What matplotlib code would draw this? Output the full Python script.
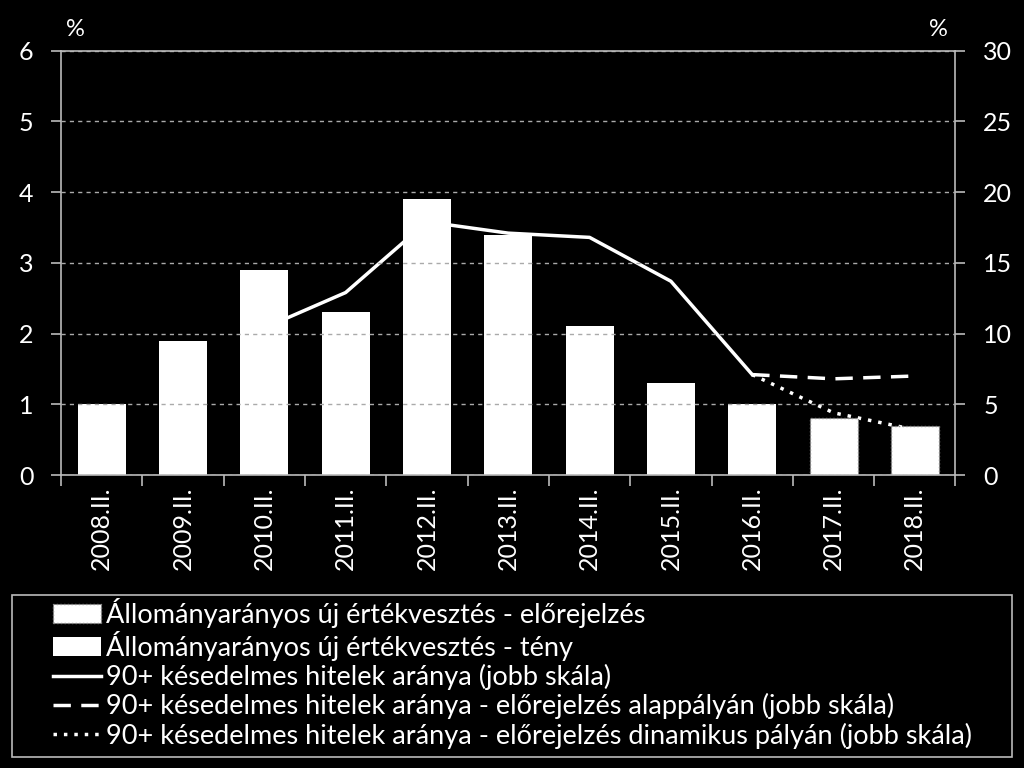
import matplotlib.pyplot as plt
from matplotlib.patches import Rectangle
import numpy as np

plt.rcParams['font.family'] = ['Lato', 'DejaVu Sans']

# Data
years = ['2008.II.', '2009.II.', '2010.II.', '2011.II.', '2012.II.', '2013.II.',
         '2014.II.', '2015.II.', '2016.II.', '2017.II.', '2018.II.']
impair_fact = [1.0, 1.9, 2.9, 2.3, 3.9, 3.4, 2.1, 1.3, 1.0, None, None]
impair_fcst = [None, None, None, None, None, None, None, None, None, 0.8, 0.7]
npl_fact = [None, None, 10.4, 12.9, 17.9, 17.1, 16.8, 13.7, 7.1, None, None]
npl_base = [None, None, None, None, None, None, None, None, 7.1, 6.8, 7.0]
npl_dyn = [None, None, None, None, None, None, None, None, 7.1, 4.4, 3.2]

labels = ['Állományarányos új értékvesztés - előrejelzés',
          'Állományarányos új értékvesztés - tény',
          '90+ késedelmes hitelek aránya (jobb skála)',
          '90+ késedelmes hitelek aránya - előrejelzés alappályán (jobb skála)',
          '90+ késedelmes hitelek aránya - előrejelzés dinamikus pályán (jobb skála)']

x = np.arange(len(years))
grey = '#bbbbbb'


def to_arr(v):
    return np.array([np.nan if a is None else a for a in v], dtype=float)


fig = plt.figure(figsize=(10.24, 7.68), dpi=100, facecolor='black')
ax = fig.add_axes([0.0596, 0.3815, 0.8735, 0.5525], facecolor='black')
ax2 = ax.twinx()

# lines on right scale, drawn under the bars
ax2.set_zorder(1)
ax.set_zorder(2)
ax.patch.set_visible(False)
ax2.patch.set_facecolor('black')

l1, = ax2.plot(x, to_arr(npl_fact), color='white', lw=2.5)
l2, = ax2.plot(x, to_arr(npl_base), color='white', lw=2.5, ls=(0, (5, 3)))
l3, = ax2.plot(x, to_arr(npl_dyn), color='white', lw=2.5, ls=(0, (1, 2)))

b_fcst = ax.bar(x, to_arr(impair_fcst), width=0.59, color='white',
                edgecolor='#888888', linestyle=':', linewidth=1)
b_fact = ax.bar(x, to_arr(impair_fact), width=0.59, color='white')

ax.set_xlim(-0.5, len(years) - 0.5)
ax.set_ylim(0, 6)
ax2.set_ylim(0, 30)
ax.set_yticks(range(0, 7))
ax2.set_yticks(range(0, 31, 5))

ax.yaxis.grid(True, color='#aaaaaa', ls=(0, (3, 3)), lw=1)
for gl in ax.get_ygridlines():
    gl.set_zorder(0)

ax.set_xticks(x)
ax.set_xticklabels(years, rotation=90)
ax.set_xticks(np.arange(-0.5, len(years)), minor=True)
ax.tick_params(axis='x', which='major', length=0, pad=8)
ax.tick_params(axis='x', which='minor', length=8, color=grey, width=1.2)

for a in (ax, ax2):
    a.tick_params(colors='white', labelsize=18)
    for s in a.spines.values():
        s.set_visible(False)
ax.tick_params(axis='y', length=7, color=grey, width=1.2, pad=13)
ax2.tick_params(axis='y', length=7, color=grey, width=1.2, pad=13)
ax.tick_params(axis='x', colors=grey, labelcolor='white')
for side in ('left', 'bottom', 'top'):
    ax.spines[side].set_visible(True)
    ax.spines[side].set_color(grey)
    ax.spines[side].set_linewidth(1.2)
ax2.spines['right'].set_visible(True)
ax2.spines['right'].set_color(grey)
ax2.spines['right'].set_linewidth(1.2)

fig.text(0.074, 0.962, '%', color='white', fontsize=17, ha='center', va='center')
fig.text(0.916, 0.962, '%', color='white', fontsize=17, ha='center', va='center')

# legend box
fig.patches.append(Rectangle((0.012, 0.014), 0.976, 0.211, transform=fig.transFigure,
                             facecolor='black', edgecolor=grey, lw=1.2))
leg = fig.legend([b_fcst, b_fact, l1, l2, l3], labels,
                 loc='upper left', bbox_to_anchor=(0.052, 0.222),
                 frameon=False, fontsize=19.5, labelcolor='white',
                 borderpad=0, labelspacing=0.12, handlelength=1.75,
                 handletextpad=0.2, borderaxespad=0)

fig.savefig('out.png', dpi=100, facecolor='black')
